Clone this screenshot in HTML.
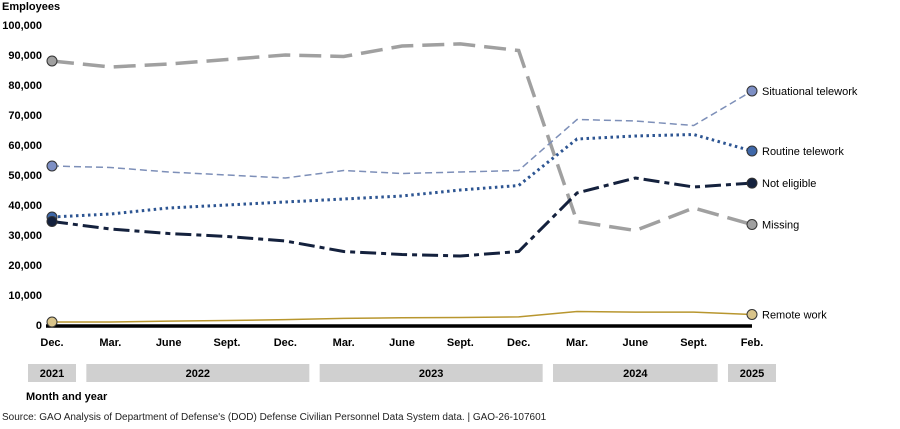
<!DOCTYPE html>
<html><head><meta charset="utf-8">
<style>
body{margin:0;background:#fff;font-family:"Liberation Sans",Arial,sans-serif;}
svg text{font-family:"Liberation Sans",Arial,sans-serif;}
</style></head>
<body>
<svg id="chart" width="900" height="424" xmlns="http://www.w3.org/2000/svg">
<text x="2" y="10" font-size="11" font-weight="bold">Employees</text>
<g id="yaxis"></g>
<g id="xaxis"></g>
<g id="years"></g>
<g id="series"></g>
<text x="26" y="400" font-size="11" font-weight="bold">Month and year</text>
<text x="2" y="420" font-size="10" fill="#222">Source: GAO Analysis of Department of Defense's (DOD) Defense Civilian Personnel Data System data.  |  GAO-26-107601</text>
</svg>
<script>
const categories=["Dec.","Mar.","June","Sept.","Dec.","Mar.","June","Sept.","Dec.","Mar.","June","Sept.","Feb."];
const yTicks=[0,10000,20000,30000,40000,50000,60000,70000,80000,90000,100000];
const situational=[53000,52500,51000,50000,49000,51500,50500,51000,51500,68500,68000,66500,78000];
const routine=[36000,37000,39000,40000,41000,42000,43000,45000,46500,62000,63000,63500,58000];
const notEligible=[34500,32000,30500,29500,28000,24500,23500,23000,24500,44000,49000,46000,47300];
const missing=[88000,86000,87000,88500,90000,89500,93000,93700,91500,34500,31500,39000,33500];
const remote=[1000,1000,1300,1500,1800,2200,2400,2500,2700,4500,4300,4300,3500];
const years=[{label:"2021",from:0,to:0},{label:"2022",from:1,to:4},{label:"2023",from:5,to:8},{label:"2024",from:9,to:11},{label:"2025",from:12,to:12}];
const NS="http://www.w3.org/2000/svg";
const x0=52,x1=752,y0=325,y1=25;
const xs=i=>x0+(x1-x0)*i/(categories.length-1);
const ys=v=>y0-(y0-y1)*v/100000;
function mk(tag,attrs,parent,text){const e=document.createElementNS(NS,tag);for(const k in attrs)e.setAttribute(k,attrs[k]);if(text!==undefined)e.textContent=text;parent.appendChild(e);return e;}
const yg=document.getElementById('yaxis');
yTicks.forEach(t=>{const e=mk('text',{x:42,y:ys(t)+4,'font-size':11,'font-weight':'bold','text-anchor':'end'},yg,t.toLocaleString('en-US'));

});
const xg=document.getElementById('xaxis');
const base=mk('line',{x1:x0-6,x2:x1,y1:y0+1,y2:y0+1,stroke:'#000','stroke-width':3.5},xg);


categories.forEach((c,i)=>{const e=mk('text',{x:xs(i),y:346,'font-size':11,'font-weight':'bold','text-anchor':'middle'},xg,c);

});
const yb=document.getElementById('years');
years.forEach(y=>{const a=xs(y.from)-25,b=xs(y.to)+25;
const r=mk('rect',{x:a+1,y:364,width:b-a-2,height:18,fill:'#d0d0d0'},yb);


const t=mk('text',{x:(a+b)/2,y:377,'font-size':11,'font-weight':'bold','text-anchor':'middle'},yb,y.label);

});
const sg=document.getElementById('series');
const defs=[
{name:'missing',data:missing,color:'#a0a0a0',w:3.5,dash:'22 9',fill:'#a0a0a0',label:'Missing'},
{name:'situational-telework',data:situational,color:'#7d8fb8',w:1.5,dash:'7 4',fill:'#7d8fc4',label:'Situational telework'},
{name:'routine-telework',data:routine,color:'#2d5592',w:3,dash:'2.5 3.5',fill:'#3e67a8',label:'Routine telework'},
{name:'not-eligible',data:notEligible,color:'#14213d',w:3,dash:'16 5 5 5',fill:'#14213d',label:'Not eligible'},
{name:'remote-work',data:remote,color:'#b8962e',w:1.5,dash:'',fill:'#d9c48a',label:'Remote work'}];
defs.forEach(d=>{const pts=d.data.map((v,i)=>xs(i)+','+ys(v)).join(' ');
const p=mk('polyline',{points:pts,fill:'none',stroke:d.color,'stroke-width':d.w,'stroke-dasharray':d.dash},sg);


[0,d.data.length-1].forEach(i=>{const c=mk('circle',{cx:xs(i),cy:ys(d.data[i]),r:5,fill:d.fill,stroke:'#333','stroke-width':1},sg);

});
const t=mk('text',{x:x1+10,y:ys(d.data[d.data.length-1])+4,'font-size':11},sg,d.label);

});
</script>
</body></html>
